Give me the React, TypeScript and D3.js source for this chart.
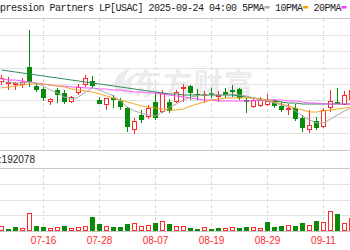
import React from "react";
import * as d3 from "d3";

const dates = ["07-08","07-09","07-10","07-11","07-14","07-15","07-16","07-17","07-18","07-21","07-22","07-23","07-24","07-25","07-28","07-29","07-30","07-31","08-01","08-04","08-05","08-06","08-07","08-08","08-11","08-12","08-13","08-14","08-15","08-18","08-19","08-20","08-21","08-22","08-25","08-26","08-27","08-28","08-29","09-02","09-03","09-04","09-05","09-08","09-09","09-10","09-11","09-12","09-15","09-16","09-17"];
const tickDates = ["07-16","07-28","08-07","08-19","08-29","09-11"];

const openP = [24.40,24.35,24.325,24.325,24.775,24.30,24.225,23.90,24.20,24.125,23.90,24.125,24.325,24.425,23.95,23.825,24.00,23.925,23.75,23.20,23.575,23.525,23.90,23.65,23.90,23.90,24.225,24.30,24.10,24.05,24.125,24.025,24.15,24.20,24.225,23.95,23.775,23.80,23.825,23.95,23.80,23.70,23.75,23.50,23.20,23.425,23.275,23.75,23.90,23.825,23.95];
const closeP = [24.50,24.40,24.375,24.40,24.40,24.20,24.00,23.975,24.075,23.90,24.025,24.275,24.50,24.30,23.85,24.00,23.95,23.775,23.275,23.425,23.45,23.75,23.50,24.125,23.675,24.15,24.275,24.125,24.075,24.10,24.075,24.075,24.075,24.15,24.00,23.90,23.95,23.95,23.925,23.80,23.70,23.75,23.475,23.25,23.325,23.25,23.70,23.925,23.85,24.075,24.20];
const highP = [24.575,24.525,24.40,24.50,25.70,24.375,24.275,24.00,24.25,24.20,24.05,24.35,24.575,24.55,24.025,24.00,24.075,24.00,23.775,23.50,23.70,23.825,24.15,24.20,23.975,24.20,24.35,24.325,24.225,24.175,24.25,24.175,24.25,24.325,24.25,24.00,23.975,24.025,24.10,23.975,23.90,23.85,23.85,23.575,23.70,23.525,23.75,24.20,24.25,24.175,24.275];
const lowP = [24.325,24.20,24.20,24.25,24.275,24.15,23.925,23.825,23.875,23.85,23.875,24.075,24.275,24.25,23.85,23.70,23.75,23.70,23.15,23.10,23.375,23.475,23.45,23.625,23.625,23.875,23.90,23.95,23.95,23.875,24.00,23.90,24.00,24.025,23.95,23.625,23.75,23.775,23.80,23.75,23.65,23.575,23.425,23.15,23.125,23.20,23.25,23.65,23.85,23.825,23.925];

const volume = [50000,20000,40000,30000,180000,50000,40000,30000,40000,50000,30000,40000,50000,140000,70000,50000,40000,40000,70000,80000,50000,60000,80000,100000,70000,50000,50000,30000,20000,40000,20000,30000,30000,40000,30000,40000,40000,30000,90000,40000,50000,60000,50000,80000,60000,100000,90000,200000,170000,80000,130000];
const volumeUp = [1,0,0,1,1,0,0,1,1,0,1,1,1,0,0,1,0,0,0,1,1,1,0,1,0,1,1,0,0,1,0,0,1,1,0,0,1,1,0,0,0,1,0,0,1,0,1,1,0,1,1];

const ma5 = [24.40,24.40,24.375,24.375,24.40,24.375,24.30,24.20,24.125,24.025,23.975,24.025,24.15,24.25,24.20,24.125,24.05,23.925,23.775,23.675,23.625,23.575,23.55,23.65,23.775,23.85,23.95,24.025,24.05,24.075,24.10,24.075,24.075,24.10,24.075,24.05,24.00,23.95,23.925,23.875,23.825,23.775,23.675,23.55,23.45,23.375,23.375,23.475,23.575,23.675,23.75];
const ma10 = [24.25,24.275,24.30,24.325,24.35,24.35,24.35,24.325,24.30,24.275,24.225,24.20,24.175,24.15,24.10,24.05,24.00,23.95,23.90,23.85,23.80,23.775,23.75,23.725,23.70,23.70,23.725,23.80,23.85,23.90,23.95,23.975,24.00,24.00,24.00,24.00,24.00,23.975,23.95,23.90,23.85,23.80,23.75,23.70,23.65,23.65,23.675,23.70,23.725,23.75,23.775];
const ma20 = [24.475,24.45,24.45,24.425,24.40,24.375,24.35,24.325,24.30,24.30,24.275,24.275,24.25,24.25,24.225,24.225,24.20,24.20,24.175,24.15,24.15,24.125,24.125,24.10,24.075,24.05,24.025,24.00,23.975,23.95,23.95,23.925,23.925,23.925,23.925,23.925,23.925,23.95,23.95,23.95,23.95,23.925,23.925,23.90,23.875,23.875,23.85,23.85,23.85,23.85,23.85];
const ma30 = [24.70,24.675,24.65,24.625,24.60,24.575,24.55,24.525,24.50,24.475,24.45,24.425,24.40,24.375,24.35,24.325,24.30,24.275,24.25,24.225,24.20,24.175,24.15,24.125,24.10,24.10,24.075,24.075,24.075,24.075,24.075,24.075,24.075,24.075,24.05,24.025,24.00,23.975,23.95,23.925,23.90,23.875,23.875,23.85,23.85,23.85,23.85,23.85,23.85,23.85,23.85];

const titleText = "USA Compression Partners LP[USAC] 2025-09-24 04:00";
const legendItems = [
  { label: "5PMA", color: "#aaaaaa" },
  { label: "10PMA", color: "#f5a000" },
  { label: "20PMA", color: "#ff33ff" },
];
const volLabel = "VOL:192078";

const W = 350, H = 250;
const RED = "#ff2a2a";
const GREEN = "#0a8a0a";

export default function App() {
  const idx = dates.map((_, i) => i);
  const x = d3.scaleLinear().domain([0, 46]).range([1.5, 323.5]);
  const y = d3.scaleLinear().domain([22.7, 26.0]).range([150, 18]);
  const vy = d3.scaleLinear().domain([0, 630000]).range([231, 168]);

  const priceGrid = d3.range(9).map((k) => 26.0 - (k * 3.3) / 8);
  const volGrid = d3.range(1, 4).map((k) => (k * 630000) / 4);

  const line = (arr: number[]) =>
    d3.line<number>().x((_, i) => x(i)).y((v) => y(v))(arr) || "";

  const ch = 5.5;
  const titleStart = -38.5;
  const font = "'Liberation Mono', monospace";

  let cell = titleText.length + 1;
  const legendPos = legendItems.map((it) => {
    const start = cell;
    cell += it.label.length + 2;
    return start;
  });

  return (
    <svg width={W} height={H} style={{ position: "absolute", left: 0, top: 0, background: "#fff" }}
      xmlns="http://www.w3.org/2000/svg">
      <defs>
        <clipPath id="plot"><rect x={0} y={18} width={W} height={132} /></clipPath>
        <clipPath id="vplot"><rect x={0} y={168} width={W} height={63} /></clipPath>
      </defs>
      <rect x={0} y={0} width={W} height={H} fill="#fff" />
      {/* watermark */}
      <g>
        <path d="M116,92 C112,80 118,70 132,68 C124,74 122,82 128,90 Z" fill="#ececec" />
        <path d="M121,94 C122,84 128,76 136,74 C130,82 130,88 134,94 Z" fill="#ececec" />
        <text x={133} y={95} fontFamily="'Noto Sans CJK SC'" fontSize={29} fontWeight={700} fill="#ececec"
          textLength={120} lengthAdjust="spacing">东方财富</text>
      </g>
      {/* price grid */}
      {priceGrid.map((p, k) => (
        <line key={"pg" + k} x1={0} x2={W} y1={Math.round(y(p)) + 0.5} y2={Math.round(y(p)) + 0.5}
          stroke={k === 0 || k === 8 ? "#c8c8c8" : "#e2e2e2"} strokeWidth={1} />
      ))}
      {/* volume grid */}
      <line x1={0} x2={W} y1={168.5} y2={168.5} stroke="#c8c8c8" />
      {volGrid.map((v, k) => (
        <line key={"vg" + k} x1={0} x2={W} y1={Math.round(vy(v)) + 0.5} y2={Math.round(vy(v)) + 0.5} stroke="#e2e2e2" />
      ))}
      <line x1={0} x2={W} y1={231.5} y2={231.5} stroke="#c8c8c8" />
      {/* vertical dashed grid */}
      {tickDates.map((t) => {
        const xi = Math.floor(x(dates.indexOf(t))) + 0.5;
        return (
          <g key={"vd" + t}>
            <line x1={xi} x2={xi} y1={19} y2={150} stroke="#d8d8d8" strokeDasharray="3,3" />
            <line x1={xi} x2={xi} y1={169} y2={231} stroke="#d8d8d8" strokeDasharray="3,3" />
          </g>
        );
      })}
      {/* candles */}
      <g clipPath="url(#plot)">
        {idx.map((i) => {
          const o = openP[i], c = closeP[i], h = highP[i], l = lowP[i];
          const up = c >= o;
          const cx = Math.floor(x(i)) + 0.5;
          const top = Math.round(y(Math.max(o, c)));
          const bot = Math.round(y(Math.min(o, c)));
          const yh = Math.round(y(h));
          const yl = Math.round(y(l));
          const col = up ? RED : GREEN;
          return (
            <g key={"c" + i}>
              <line x1={cx} x2={cx} y1={yh} y2={top} stroke={col} />
              <line x1={cx} x2={cx} y1={bot} y2={yl} stroke={col} />
              {up ? (
                <rect x={cx - 2} y={top + 0.5} width={4} height={Math.max(bot - top - 1, 1)} fill="#fff" stroke={col} />
              ) : (
                <rect x={cx - 2.5} y={top} width={5} height={Math.max(bot - top, 1)} fill={col} />
              )}
            </g>
          );
        })}
        <path d={line(ma30)} fill="none" stroke="#2e8b57" strokeWidth={1} />
        <path d={line(ma20)} fill="none" stroke="#ff55ff" strokeWidth={1} />
        <path d={line(ma10)} fill="none" stroke="#f5a623" strokeWidth={1} />
        <path d={line(ma5)} fill="none" stroke="#aaaaaa" strokeWidth={1} />
      </g>
      {/* volume bars */}
      <g clipPath="url(#vplot)">
        {idx.map((i) => {
          const cx = Math.floor(x(i)) + 0.5;
          const top = Math.round(vy(volume[i]));
          const up = volumeUp[i] === 1;
          return up ? (
            <rect key={"v" + i} x={cx - 2} y={top + 0.5} width={4} height={231 - top - 1} fill="#fff" stroke={RED} />
          ) : (
            <rect key={"v" + i} x={cx - 2.5} y={top} width={5} height={231 - top} fill={GREEN} />
          );
        })}
      </g>
      {/* volume label */}
      <text x={35} y={163} textAnchor="end" fontFamily="'Liberation Sans', Arial, sans-serif" fontSize={10} fill="#222">{volLabel}</text>
      {/* date labels */}
      {tickDates.map((t) => (
        <text key={"dl" + t} x={x(dates.indexOf(t))} y={244} textAnchor="middle"
          fontFamily="'Liberation Sans', Arial, sans-serif" fontSize={10} fill={RED}>{t}</text>
      ))}
      {/* title */}
      <text x={titleStart} y={11} fontFamily={font} fontSize={10} letterSpacing={-0.5} fill="#222">{titleText}</text>
      {legendItems.map((it, k) => {
        const start = titleStart + legendPos[k] * ch;
        return (
          <g key={"lg" + k}>
            <text x={start} y={11} fontFamily={font} fontSize={10} letterSpacing={-0.5} fill="#222">{it.label}</text>
            <rect x={start + it.label.length * ch + 0.5} y={6} width={5} height={2.5} fill={it.color} />
          </g>
        );
      })}
    </svg>
  );
}
